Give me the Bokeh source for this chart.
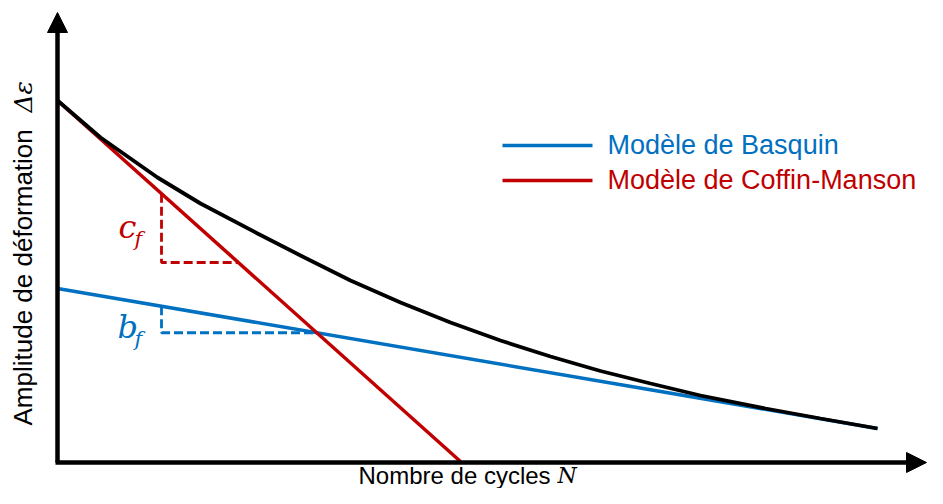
import numpy as np
from bokeh.plotting import figure
from bokeh.models import Range1d, Arrow, NormalHead
from bokeh.core.properties import value
from bokeh.embed import file_html
from bokeh.resources import INLINE

# ---- data (schematic units) ----
# Coffin-Manson model (straight line)
cm_x = [0.0, 4.03]
cm_y = [3.61, 0.0]
# Basquin model (straight line)
bq_x = [0.0, 8.20]
bq_y = [1.73, 0.33]
# total strain-life curve
tot_x = [0.00, 0.43, 1.00, 1.43, 2.00, 2.43, 2.93, 3.43, 3.93, 4.43,
         4.93, 5.43, 5.93, 6.43, 7.08, 7.63, 8.20]
tot_y = [3.61, 3.24, 2.84, 2.58, 2.28, 2.06, 1.81, 1.59, 1.39, 1.21,
         1.05, 0.905, 0.78, 0.66, 0.53, 0.43, 0.33]
# slope triangles
tri_x0 = 1.04
cf_level = 1.99
# legend
legend_labels = ["Modèle de Basquin", "Modèle de Coffin-Manson"]
BLUE = "#0070C0"
RED = "#C00000"
legend_colors = [BLUE, RED]
x_label = "Nombre de cycles "
x_sym = "N"
y_label = "Amplitude de déformation "
y_sym = "Δε"
axis_x_end = 8.69
axis_y_end = 4.49

SANS = value("Liberation Sans")
SERIF = value("DejaVu Serif")


def line_at(xs, ys, x):
    k = (ys[1] - ys[0]) / (xs[1] - xs[0])
    return ys[0] + k * (x - xs[0])


def x_at(xs, ys, y):
    k = (ys[1] - ys[0]) / (xs[1] - xs[0])
    return xs[0] + (y - ys[0]) / k


p = figure(width=927, height=488, output_backend="svg", toolbar_location=None,
           x_range=Range1d(-0.57, 8.70), y_range=Range1d(-0.27, 4.61),
           min_border=0, x_axis_type=None, y_axis_type=None)
p.grid.visible = False
p.outline_line_color = None
p.background_fill_color = "white"

# axes with arrows
p.add_layout(Arrow(x_start=0, y_start=-0.01, x_end=0, y_end=axis_y_end,
                   line_width=4.5, line_color="black",
                   end=NormalHead(size=20, fill_color="black", line_color="black")))
p.add_layout(Arrow(x_start=-0.02, y_start=-0.01, x_end=axis_x_end, y_end=-0.01,
                   line_width=4.5, line_color="black",
                   end=NormalHead(size=20, fill_color="black", line_color="black")))

# curves
p.line(bq_x, bq_y, line_color=BLUE, line_width=3.5)
p.line(cm_x, cm_y, line_color=RED, line_width=3.5)
p.line(tot_x, tot_y, line_color="black", line_width=3.8)

# c_f triangle
cf_top = line_at(cm_x, cm_y, tri_x0)
cf_end = x_at(cm_x, cm_y, cf_level)
p.line([tri_x0, tri_x0, cf_end], [cf_top, cf_level, cf_level],
       line_color=RED, line_width=2.8, line_dash="9 4")
# b_f triangle (down to the intersection of the two models)
k_cm = (cm_y[1] - cm_y[0]) / (cm_x[1] - cm_x[0])
k_bq = (bq_y[1] - bq_y[0]) / (bq_x[1] - bq_x[0])
xi = (bq_y[0] - cm_y[0]) / (k_cm - k_bq)
yi = line_at(bq_x, bq_y, xi)
bf_top = line_at(bq_x, bq_y, tri_x0)
p.line([tri_x0, tri_x0, xi], [bf_top, yi, yi],
       line_color=BLUE, line_width=2.8, line_dash="9 4")

# slope labels
p.text([0.61], [2.345], text=["c"], text_font=SERIF, text_font_style="italic",
       text_font_size="32px", text_color=RED, text_baseline="middle")
p.text([0.77], [2.23], text=["f"], text_font=SERIF, text_font_style="italic",
       text_font_size="21px", text_color=RED, text_baseline="middle")
p.text([0.60], [1.345], text=["b"], text_font=SERIF, text_font_style="italic",
       text_font_size="32px", text_color=BLUE, text_baseline="middle")
p.text([0.77], [1.23], text=["f"], text_font=SERIF, text_font_style="italic",
       text_font_size="21px", text_color=BLUE, text_baseline="middle")

# legend (manual, coloured text)
leg_y = [3.16, 2.81]
for lbl, col, yy in zip(legend_labels, legend_colors, leg_y):
    p.line([4.45, 5.35], [yy, yy], line_color=col, line_width=3.5)
    p.text([5.50], [yy + 0.01], text=[lbl], text_font=SANS, text_font_size="27px",
           text_color=col, text_baseline="middle", text_align="left")

# axis labels
p.text([3.01], [-0.135], text=[x_label], text_font=SANS, text_font_size="24px",
       text_color="black", text_baseline="middle")
p.text([5.00], [-0.135], text=[x_sym], text_font=SERIF, text_font_style="italic",
       text_font_size="22px", text_color="black", text_baseline="middle")
p.text([-0.345], [0.36], text=[y_label], text_font=SANS, text_font_size="26px",
       text_color="black", text_baseline="middle", angle=np.pi / 2)
p.text([-0.345], [3.49], text=[y_sym], text_font=SERIF, text_font_style="italic",
       text_font_size="25px", text_color="black", text_baseline="middle",
       angle=np.pi / 2)

open("out.html", "w").write(file_html(p, INLINE))
